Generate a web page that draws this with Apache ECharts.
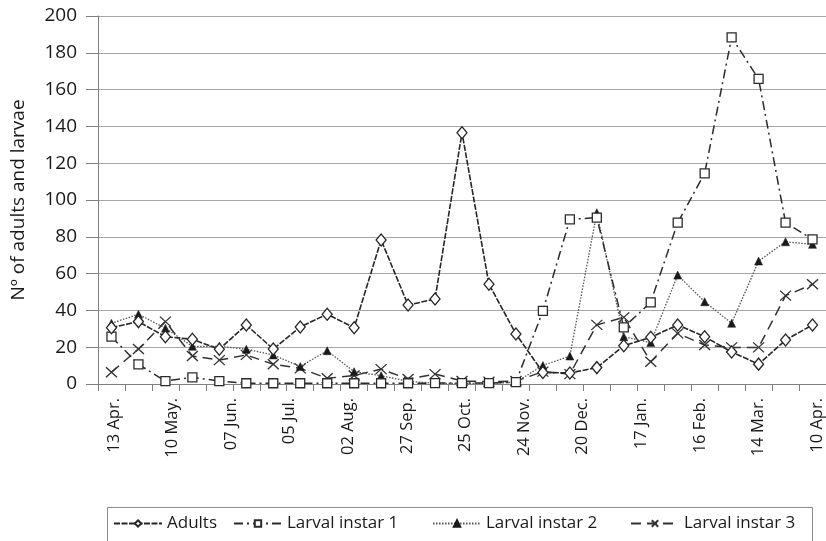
<!DOCTYPE html>
<html>
<head>
<meta charset="utf-8">
<script src="https://cdn.jsdelivr.net/npm/echarts@6/dist/echarts.min.js"></script>
<style>
html,body{margin:0;padding:0;background:#fff;}
#chart{width:826px;height:541px;}
</style>
</head>
<body>
<div id="chart"></div>
<script>
// Sampling occasions (every ~2 weeks)
const samples = ['s1','s2','s3','s4','s5','s6','s7','s8','s9','s10','s11','s12','s13','s14','s15','s16','s17','s18','s19','s20','s21','s22','s23','s24','s25','s26','s27'];
// Date labels printed under the axis
const dateLabels = ['13 Apr.','10 May.','07 Jun.','05 Jul.','02 Aug.','27 Sep.','25 Oct.','24 Nov.','20 Dec.','17 Jan.','16 Feb.','14 Mar.','10 Apr.'];
const yTicks = [0,20,40,60,80,100,120,140,160,180,200];

const adults  = [30.6,33.9,25.7,24.3,18.9,32.1,19.0,31.0,37.9,30.6,78.3,42.9,46.2,136.6,54.2,27.2,6.3,6.0,8.9,20.8,25.4,32.1,25.7,17.4,10.8,23.9,32.1];
const larval1 = [25.7,10.7,1.6,3.6,1.6,0.4,0.4,0.4,0.4,0.4,0.4,0.4,0.5,0.5,0.5,1.0,39.7,89.5,90.4,30.8,44.4,87.7,114.5,188.4,165.8,87.7,78.6];
const larval2 = [33.0,37.9,30.3,20.5,20.5,18.9,15.8,9.5,18.1,6.7,4.5,1.5,0.4,0.3,0.3,1.0,10.1,15.2,93.1,25.7,22.5,59.2,44.7,33.0,66.8,77.3,75.9];
const larval3 = [6.4,19.0,33.9,15.2,13.0,15.8,10.7,8.5,3.1,4.6,8.1,2.7,5.4,1.6,1.3,1.6,6.7,5.4,32.1,36.2,12.1,27.5,21.2,19.9,19.9,48.0,54.2];

const FONT = 'Open Sans';
const TXT = '#1a1a1a';
const chart = echarts.init(document.getElementById('chart'), null, {renderer:'canvas'});

const legendCommon = {
  top: 515, itemWidth: 48, itemHeight: 8, itemGap: 0,
  textStyle: {fontFamily: FONT, fontSize: 17, color: TXT},
  padding: 0
};

chart.setOption({
  animation: false,
  backgroundColor: '#fff',
  grid: [
    {left: 98, top: 16, width: 736, bottom: 157},
    {left: 114, top: 16, width: 703, bottom: 157}
  ],
  xAxis: [
    {
      type: 'category', gridIndex: 0, data: samples, boundaryGap: true,
      axisLine: {lineStyle: {color: '#808080', width: 1}},
      axisTick: {show: true, length: 7, lineStyle: {color: '#808080'}},
      axisLabel: {show: false},
      splitLine: {show: false}
    },
    {
      type: 'category', gridIndex: 1, data: dateLabels, boundaryGap: false,
      axisLine: {show: false}, axisTick: {show: false},
      axisLabel: {show: true, interval: 0, rotate: 90, margin: 14,
        fontFamily: FONT, fontSize: 16.5, color: TXT},
      splitLine: {show: false}
    }
  ],
  yAxis: [
    {
      type: 'value', gridIndex: 0, min: 0, max: 200, interval: 20,
      name: 'Nº of adults and larvae', nameLocation: 'middle', nameGap: 70,
      nameTextStyle: {fontFamily: FONT, fontSize: 19, color: TXT},
      axisLine: {show: true, lineStyle: {color: '#808080', width: 1}},
      axisTick: {show: true, length: 12, lineStyle: {color: '#808080'}},
      axisLabel: {margin: 21, fontFamily: FONT, fontSize: 19, color: TXT,
        formatter: v => (yTicks.indexOf(v) >= 0 ? String(v) : '')},
      splitLine: {show: true, lineStyle: {color: '#a6a6a6', width: 1}}
    },
    {type: 'value', gridIndex: 1, min: 0, max: 200, show: false}
  ],
  legend: [
    Object.assign({}, legendCommon, {left: 113, data: ['Adults']}),
    Object.assign({}, legendCommon, {left: 233, data: ['Larval instar 1']}),
    Object.assign({}, legendCommon, {left: 432, data: ['Larval instar 2']}),
    Object.assign({}, legendCommon, {left: 630, data: ['Larval instar 3']})
  ],
  graphic: [{
    type: 'rect', shape: {x: 107.5, y: 507.5, width: 705, height: 40},
    style: {fill: 'none', stroke: '#8c8c8c', lineWidth: 1}, silent: true
  }],
  series: [
    {
      name: 'Adults', type: 'line', xAxisIndex: 0, yAxisIndex: 0, data: adults,
      symbol: 'diamond', symbolSize: [10, 12], showSymbol: true,
      lineStyle: {color: '#262626', width: 1.6, type: [6, 1.5]},
      itemStyle: {color: '#fff', borderColor: '#262626', borderWidth: 1.3},
      z: 5
    },
    {
      name: 'Larval instar 1', type: 'line', xAxisIndex: 0, yAxisIndex: 0, data: larval1,
      symbol: 'rect', symbolSize: 9,
      lineStyle: {color: '#2b2b2b', width: 1.5, type: [9, 4, 2, 4]},
      itemStyle: {color: '#fff', borderColor: '#2b2b2b', borderWidth: 1.3},
      z: 4
    },
    {
      name: 'Larval instar 2', type: 'line', xAxisIndex: 0, yAxisIndex: 0, data: larval2,
      symbol: 'triangle', symbolSize: [8, 8],
      lineStyle: {color: '#555', width: 1.3, type: [1.5, 1.5]},
      itemStyle: {color: '#1a1a1a', borderColor: '#1a1a1a', borderWidth: 0.5},
      z: 3
    },
    {
      name: 'Larval instar 3', type: 'line', xAxisIndex: 0, yAxisIndex: 0, data: larval3,
      symbol: 'path://M0,0L10,10M10,0L0,10', symbolSize: [11, 10],
      lineStyle: {color: '#333', width: 1.5, type: [10, 6]},
      itemStyle: {color: '#333', borderColor: '#333', borderWidth: 1.3},
      z: 2
    }
  ]
});
</script>
</body>
</html>
